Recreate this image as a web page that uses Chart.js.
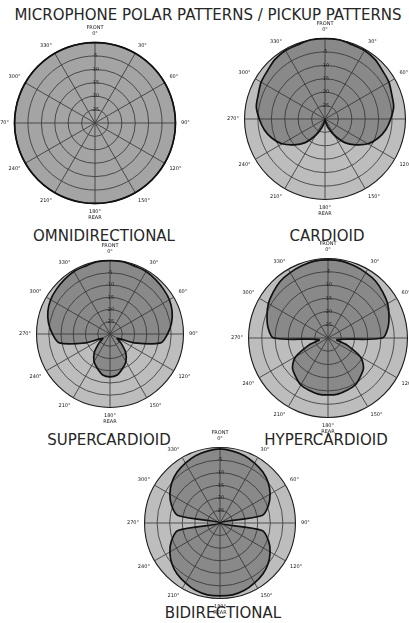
<!DOCTYPE html>
<html>
<head>
<meta charset="utf-8">
<title>Microphone polar patterns</title>
<script src="https://cdn.jsdelivr.net/npm/chart.js@4.4.1/dist/chart.umd.min.js"></script>
<style>
  html, body { margin: 0; padding: 0; background: #fff; }
  body {
    width: 409px; height: 623px; position: relative; overflow: hidden;
    font-family: "DejaVu Sans", sans-serif; color: #262626;
  }
  .label {
    position: absolute; transform: translateX(-50%); white-space: nowrap;
    font-size: 15px; line-height: 17px;
  }
  canvas.plot { position: absolute; }
</style>
</head>
<body>
<div class="label" style="left:208px; top:7px">MICROPHONE POLAR PATTERNS / PICKUP PATTERNS</div>
<div class="label" style="left:104px; top:228px">OMNIDIRECTIONAL</div>
<div class="label" style="left:327px; top:228px">CARDIOID</div>
<div class="label" style="left:109px; top:432px">SUPERCARDIOID</div>
<div class="label" style="left:326px; top:432px">HYPERCARDIOID</div>
<div class="label" style="left:223px; top:605px">BIDIRECTIONAL</div>

<canvas class="plot" id="chart-omni" width="196" height="196" style="left:-4px; top:25px"></canvas>
<canvas class="plot" id="chart-cardioid" width="196" height="196" style="left:226px; top:21px"></canvas>
<canvas class="plot" id="chart-super" width="182" height="182" style="left:18px; top:243px"></canvas>
<canvas class="plot" id="chart-hyper" width="194" height="194" style="left:230px; top:241px"></canvas>
<canvas class="plot" id="chart-bi" width="186" height="186" style="left:126px; top:430px"></canvas>

<script>
// angle of each reading, clockwise from the front
const angles = ['0°', '10°', '20°', '30°', '40°', '50°', '60°', '70°', '80°', '90°', '100°', '110°',
  '120°', '130°', '140°', '150°', '160°', '170°', '180°', '190°', '200°', '210°', '220°', '230°',
  '240°', '250°', '260°', '270°', '280°', '290°', '300°', '310°', '320°', '330°', '340°', '350°'];

// relative level in dB (0 = outer ring, -30 = centre)
const omniLevels = [0, 0, 0, 0, 0, 0, 0, 0, 0, 0, 0, 0,
  0, 0, 0, 0, 0, 0, 0, 0, 0, 0, 0, 0,
  0, 0, 0, 0, 0, 0, 0, 0, 0, 0, 0, 0];
const cardioidLevels = [0, 0, -0.5, -0.5, -1, -2, -2.5, -3.5, -4, -5.5, -7, -9,
  -11.5, -15, -18.5, -23, -26.5, -29, -30, -29, -26.5, -23, -18.5, -15,
  -11.5, -9, -7, -5.5, -4, -3.5, -2.5, -2, -1, -0.5, -0.5, 0];
const superLevels = [0, 0, -0.5, -0.5, -1, -1.5, -2, -3, -4.5, -6.5, -9, -19.5,
  -26.5, -24, -20, -17, -15, -13, -12.5, -13, -15, -17, -20, -24,
  -26.5, -19.5, -9, -6.5, -4.5, -3, -2, -1.5, -1, -0.5, -0.5, 0];
const hyperLevels = [-0.5, -0.5, -1, -1.5, -2, -3, -4, -5.5, -7, -9.5, -26.5, -22.5,
  -16, -12.5, -11, -9.5, -9, -8.5, -8.5, -8.5, -9, -9.5, -11, -12.5,
  -16, -22.5, -26.5, -9.5, -7, -5.5, -4, -3, -2, -1.5, -1, -0.5];
const biLevels = [-0.5, -1, -1.5, -2.5, -3.5, -5, -7, -9.5, -13, -30, -13, -9.5,
  -7, -5, -3.5, -2.5, -1.5, -1, -1, -1, -1.5, -2.5, -3.5, -5,
  -7, -9.5, -13, -30, -13, -9.5, -7, -5, -3.5, -2.5, -1.5, -1];

// ring labels shown up the front axis
const ringTicks = [-25, -20, -15, -10, -5];

const discColor = '#bdbdbd';
const lobeColor = 'rgba(50, 50, 50, 0.37)';
const gridColor = '#424242';

Chart.defaults.font.family = '"DejaVu Sans", sans-serif';
Chart.defaults.color = '#222';

function pointLabel(label, index) {
  if (index === 0) return ['FRONT', label];
  if (index === 18) return [label, 'REAR'];
  return index % 3 === 0 ? label : '';
}

function makePolar(id, levels, fill, rimWidth) {
  new Chart(document.getElementById(id), {
    type: 'radar',
    data: {
      labels: angles,
      datasets: [{
        data: levels,
        borderColor: '#111',
        borderWidth: 1.7,
        backgroundColor: fill,
        fill: 'start',
        tension: 0.3,
        pointRadius: 0,
        pointHoverRadius: 0
      }]
    },
    options: {
      responsive: false,
      animation: false,
      events: [],
      layout: { padding: 0 },
      plugins: { legend: { display: false }, tooltip: { enabled: false } },
      scales: {
        r: {
          min: -30,
          max: 0,
          backgroundColor: discColor,
          ticks: {
            stepSize: 5,
            z: 1,
            font: { size: 5 },
            color: '#1e1e1e',
            showLabelBackdrop: false,
            backdropPadding: 0,
            callback: function (value) {
              return ringTicks.includes(value) ? String(value) : '';
            }
          },
          grid: {
            circular: true,
            color: function (ctx) { return ctx.tick && ctx.tick.value === 0 ? '#1a1a1a' : gridColor; },
            lineWidth: function (ctx) { return ctx.tick && ctx.tick.value === 0 ? rimWidth : 0.9; }
          },
          angleLines: {
            color: gridColor,
            lineWidth: function (ctx) { return ctx.index % 3 === 0 ? 0.9 : 0; }
          },
          pointLabels: {
            font: { size: 5 },
            color: '#161616',
            padding: 3,
            callback: pointLabel
          }
        }
      }
    }
  });
}

makePolar('chart-omni', omniLevels, 'rgba(50, 50, 50, 0.18)', 1.4);
makePolar('chart-cardioid', cardioidLevels, lobeColor, 1.1);
makePolar('chart-super', superLevels, lobeColor, 1.1);
makePolar('chart-hyper', hyperLevels, lobeColor, 1.1);
makePolar('chart-bi', biLevels, lobeColor, 1.1);
</script>
</body>
</html>
